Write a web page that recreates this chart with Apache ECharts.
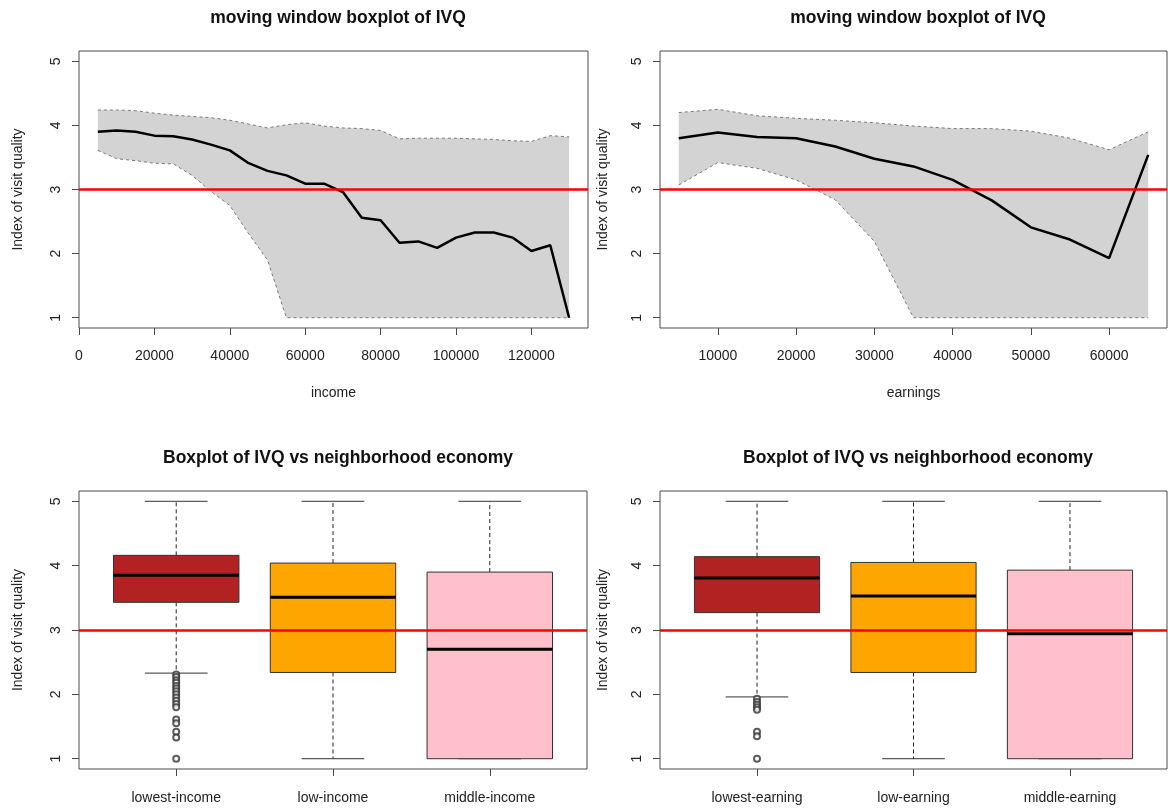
<!DOCTYPE html>
<html><head><meta charset="utf-8">
<script src="https://cdn.jsdelivr.net/npm/echarts@6/dist/echarts.min.js"></script>
<style>html,body{margin:0;padding:0;background:#fff}#c{width:1168px;height:809px}</style>
</head><body><div id="c"></div>
<script>
// ---------- data ----------
const incomeX = [5000,10000,15000,20000,25000,30000,35000,40000,45000,50000,55000,60000,65000,70000,75000,80000,85000,90000,95000,100000,105000,110000,115000,120000,125000,130000];
const incomeMedian = [3.90,3.92,3.90,3.84,3.83,3.78,3.70,3.61,3.41,3.29,3.22,3.09,3.09,2.96,2.56,2.52,2.17,2.19,2.09,2.25,2.33,2.33,2.25,2.04,2.13,1.00];
const incomeUpper = [4.24,4.24,4.23,4.19,4.16,4.14,4.12,4.08,4.02,3.96,4.01,4.04,3.99,3.96,3.95,3.92,3.79,3.80,3.80,3.80,3.79,3.78,3.76,3.75,3.84,3.82];
const incomeLower = [3.61,3.48,3.45,3.41,3.40,3.22,2.97,2.75,2.31,1.90,1.00,1.00,1.00,1.00,1.00,1.00,1.00,1.00,1.00,1.00,1.00,1.00,1.00,1.00,1.00,1.00];

const earnX = [5000,10000,15000,20000,25000,30000,35000,40000,45000,50000,55000,60000,65000];
const earnMedian = [3.80,3.89,3.82,3.80,3.67,3.48,3.36,3.15,2.83,2.41,2.22,1.93,3.54];
const earnUpper = [4.20,4.25,4.15,4.11,4.08,4.04,3.99,3.95,3.95,3.91,3.80,3.62,3.90];
const earnLower = [3.07,3.42,3.33,3.15,2.84,2.19,1.00,1.00,1.00,1.00,1.00,1.00,1.00];

const incomeTicks = [0,20000,40000,60000,80000,100000,120000];
const earnTicks = [10000,20000,30000,40000,50000,60000];
const yTicks = [1,2,3,4,5];
const threshold = 3;

const incomeCats = ['lowest-income','low-income','middle-income'];
const earnCats = ['lowest-earning','low-earning','middle-earning'];
const catPos = [1,2,3];
// [lower whisker, Q1, median, Q3, upper whisker]
const incomeBoxStats = [[2.33,3.43,3.85,4.16,5.00],[1.00,2.34,3.51,4.04,5.00],[1.00,1.00,2.70,3.90,5.00]];
const earnBoxStats = [[1.96,3.27,3.81,4.14,5.00],[1.00,2.34,3.53,4.05,5.00],[1.00,1.00,2.94,3.93,5.00]];
const incomeOutliers = [2.31,2.27,2.22,2.18,2.13,2.09,2.05,2.00,1.95,1.90,1.85,1.80,1.61,1.55,1.42,1.33,1.00];
const earnOutliers = [1.93,1.88,1.84,1.80,1.76,1.42,1.35,1.00];
const boxColors = ['#B22222','#FFA500','#FFC0CB'];

// ---------- helpers ----------
const FONT = "'Liberation Sans', Arial, sans-serif";
const TXT = '#222';
const FRAME = '#4a4a4a';
const zip = (xs, ys) => xs.map((x, i) => [x, ys[i]]);

const grids = [
  {left: 79, top: 51, width: 509, height: 277},
  {left: 660, top: 51, width: 507, height: 277},
  {left: 79, top: 491, width: 508, height: 278},
  {left: 660, top: 491, width: 507, height: 278}
].map(g => Object.assign({show: true, borderColor: FRAME, borderWidth: 1, backgroundColor: 'transparent'}, g));

function yAxis(gi, gap) {
  return {
    type: 'value', gridIndex: gi, min: 0.84, max: 5.16,
    name: 'Index of visit quality', nameLocation: 'middle', nameGap: gap,
    nameTextStyle: {fontFamily: FONT, fontSize: 14, color: TXT},
    axisLine: {show: false}, splitLine: {show: false},
    axisTick: {show: true, length: 7, lineStyle: {color: FRAME}, customValues: yTicks},
    axisLabel: {rotate: 90, margin: 16, fontFamily: FONT, fontSize: 14, color: TXT, customValues: yTicks}
  };
}
function xValAxis(gi, min, max, ticks, name) {
  return {
    type: 'value', gridIndex: gi, min: min, max: max,
    name: name, nameLocation: 'middle', nameGap: 58,
    nameTextStyle: {fontFamily: FONT, fontSize: 14, color: TXT},
    axisLine: {show: false}, splitLine: {show: false},
    axisTick: {show: true, length: 7, lineStyle: {color: FRAME}, customValues: ticks},
    axisLabel: {margin: 21, fontFamily: FONT, fontSize: 14, color: TXT, customValues: ticks,
      formatter: v => String(v)}
  };
}
function xCatAxis(gi, cats) {
  return {
    type: 'value', gridIndex: gi, min: 0.38, max: 3.62,
    axisLine: {show: false}, splitLine: {show: false},
    axisTick: {show: true, length: 7, lineStyle: {color: FRAME}, customValues: catPos},
    axisLabel: {margin: 22, fontFamily: FONT, fontSize: 14, color: TXT, customValues: catPos,
      formatter: v => cats[Math.round(v) - 1] || ''}
  };
}
const redLine = {
  silent: true, symbol: 'none', label: {show: false},
  lineStyle: {color: '#FF0000', width: 2.5, type: 'solid'},
  data: [{yAxis: threshold}]
};
function renderBand(params, api) {
  if (params.dataIndex !== 0) return;
  const n = params.dataInsideLength;
  const up = [], lo = [];
  for (let i = 0; i < n; i++) {
    up.push(api.coord([api.value(0, i), api.value(2, i)]));
    lo.push(api.coord([api.value(0, i), api.value(1, i)]));
  }
  return {type: 'polygon', shape: {points: up.concat(lo.reverse())}, style: {fill: '#D3D3D3'}};
}
function bandSeries(idx, xs, lower, upper, median) {
  const dash = {color: '#7a7a7a', width: 1, type: [3, 3]};
  return [
    {type: 'custom', xAxisIndex: idx, yAxisIndex: idx, renderItem: renderBand, silent: true, z: 1,
      encode: {x: 0, y: [1, 2]}, data: xs.map((x, i) => [x, lower[i], upper[i]])},
    {type: 'line', xAxisIndex: idx, yAxisIndex: idx, data: zip(xs, upper), symbol: 'none', lineStyle: dash, silent: true, z: 2},
    {type: 'line', xAxisIndex: idx, yAxisIndex: idx, data: zip(xs, lower), symbol: 'none', lineStyle: dash, silent: true, z: 2},
    {type: 'line', xAxisIndex: idx, yAxisIndex: idx, data: zip(xs, median), symbol: 'none',
      lineStyle: {color: '#000', width: 2.5}, silent: true, z: 3, markLine: redLine}
  ];
}
function renderBox(params, api) {
  const x = api.value(0);
  const lo = api.coord([x, api.value(1)]);
  const q1 = api.coord([x, api.value(2)]);
  const md = api.coord([x, api.value(3)]);
  const q3 = api.coord([x, api.value(4)]);
  const hi = api.coord([x, api.value(5)]);
  const w = api.size([0.8, 0])[0];
  const cx = lo[0];
  const dashS = {stroke: '#222', lineWidth: 1, lineDash: [4, 3]};
  const solidS = {stroke: '#333', lineWidth: 1};
  return {type: 'group', children: [
    {type: 'line', shape: {x1: cx, y1: q3[1], x2: cx, y2: hi[1]}, style: dashS},
    {type: 'line', shape: {x1: cx, y1: q1[1], x2: cx, y2: lo[1]}, style: dashS},
    {type: 'line', shape: {x1: cx - w / 4, y1: hi[1], x2: cx + w / 4, y2: hi[1]}, style: solidS},
    {type: 'line', shape: {x1: cx - w / 4, y1: lo[1], x2: cx + w / 4, y2: lo[1]}, style: solidS},
    {type: 'rect', shape: {x: cx - w / 2, y: q3[1], width: w, height: q1[1] - q3[1]},
      style: {fill: boxColors[params.dataIndex], stroke: '#333', lineWidth: 1}},
    {type: 'line', shape: {x1: cx - w / 2, y1: md[1], x2: cx + w / 2, y2: md[1]}, style: {stroke: '#000', lineWidth: 3}}
  ]};
}
function boxSeries(idx, stats, outliers) {
  return [
    {type: 'custom', xAxisIndex: idx, yAxisIndex: idx, renderItem: renderBox, silent: true, z: 2,
      encode: {x: 0, y: [1, 2, 3, 4, 5]},
      data: stats.map((s, i) => [catPos[i]].concat(s))},
    {type: 'scatter', xAxisIndex: idx, yAxisIndex: idx, symbol: 'emptyCircle', symbolSize: 6, silent: true, z: 3,
      itemStyle: {color: '#333', borderColor: '#333', borderWidth: 0.8},
      data: outliers.map(v => [catPos[0], v]), markLine: redLine}
  ];
}
const titleStyle = {fontFamily: FONT, fontSize: 17.5, fontWeight: 'bold', color: '#111'};
const option = {
  animation: false,
  backgroundColor: '#fff',
  title: [
    {text: 'moving window boxplot of IVQ', left: 333, top: 4, textAlign: 'center', textStyle: titleStyle},
    {text: 'moving window boxplot of IVQ', left: 913, top: 4, textAlign: 'center', textStyle: titleStyle},
    {text: 'Boxplot of IVQ vs neighborhood economy', left: 333, top: 444, textAlign: 'center', textStyle: titleStyle},
    {text: 'Boxplot of IVQ vs neighborhood economy', left: 913, top: 444, textAlign: 'center', textStyle: titleStyle}
  ],
  grid: grids,
  xAxis: [
    xValAxis(0, 0, 135000, incomeTicks, 'income'),
    xValAxis(1, 2600, 67400, earnTicks, 'earnings'),
    xCatAxis(2, incomeCats),
    xCatAxis(3, earnCats)
  ],
  yAxis: [yAxis(0, 54), yAxis(1, 50), yAxis(2, 54), yAxis(3, 50)],
  series: [].concat(
    bandSeries(0, incomeX, incomeLower, incomeUpper, incomeMedian),
    bandSeries(1, earnX, earnLower, earnUpper, earnMedian),
    boxSeries(2, incomeBoxStats, incomeOutliers),
    boxSeries(3, earnBoxStats, earnOutliers)
  )
};
const chart = echarts.init(document.getElementById('c'), null, {renderer: 'canvas'});
chart.setOption(option);
</script>
</body></html>
